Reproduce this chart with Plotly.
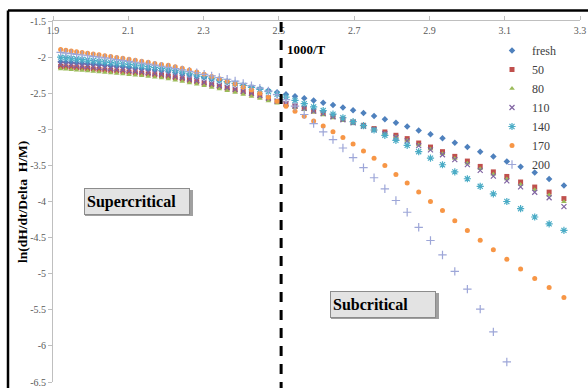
import plotly.graph_objects as go

# 1000/T values (x) shared by all series
x_vals = [1.9203, 1.9342, 1.9484, 1.9627, 1.9773, 1.9920, 2.0070, 2.0222, 2.0377, 2.0534,
          2.0693, 2.0855, 2.1019, 2.1186, 2.1356, 2.1529, 2.1704, 2.1882, 2.2063, 2.2247,
          2.2434, 2.2624, 2.2818, 2.3015, 2.3215, 2.3419, 2.3627, 2.3838, 2.4053, 2.4272,
          2.4495, 2.4722, 2.4953, 2.5189, 2.5429, 2.5674, 2.5924, 2.6178, 2.6438, 2.6702,
          2.6972, 2.7248, 2.7529, 2.7816, 2.8110, 2.8409, 2.8715, 2.9028, 2.9347, 2.9674,
          3.0008, 3.0349, 3.0698, 3.1056, 3.1422, 3.1797, 3.2180, 3.2573]

y_fresh = [-2.065, -2.070, -2.076, -2.082, -2.088, -2.094, -2.100, -2.107, -2.113, -2.120,
           -2.127, -2.134, -2.142, -2.150, -2.158, -2.166, -2.175, -2.184, -2.194, -2.210,
           -2.227, -2.245, -2.264, -2.284, -2.304, -2.325, -2.346, -2.368, -2.390, -2.413,
           -2.437, -2.462, -2.488, -2.515, -2.542, -2.570, -2.600, -2.632, -2.665, -2.699,
           -2.735, -2.773, -2.815, -2.860, -2.910, -2.960, -3.015, -3.070, -3.125, -3.185,
           -3.245, -3.310, -3.375, -3.445, -3.520, -3.600, -3.690, -3.780]

y_50 = [-2.130, -2.135, -2.140, -2.146, -2.152, -2.158, -2.164, -2.171, -2.178, -2.185,
        -2.192, -2.200, -2.208, -2.216, -2.225, -2.234, -2.244, -2.254, -2.268, -2.285,
        -2.303, -2.322, -2.342, -2.363, -2.385, -2.408, -2.432, -2.457, -2.483, -2.510,
        -2.540, -2.575, -2.615, -2.650, -2.680, -2.710, -2.745, -2.780, -2.820, -2.860,
        -2.900, -2.945, -2.990, -3.037, -3.083, -3.129, -3.190, -3.246, -3.310, -3.375,
        -3.440, -3.514, -3.590, -3.653, -3.730, -3.800, -3.870, -3.960]

y_80 = [-2.165, -2.170, -2.175, -2.181, -2.187, -2.193, -2.199, -2.206, -2.213, -2.220,
        -2.227, -2.235, -2.243, -2.251, -2.260, -2.269, -2.279, -2.289, -2.303, -2.320,
        -2.338, -2.357, -2.377, -2.398, -2.420, -2.443, -2.467, -2.492, -2.518, -2.545,
        -2.575, -2.608, -2.640, -2.668, -2.698, -2.730, -2.765, -2.802, -2.842, -2.882,
        -2.924, -2.968, -3.014, -3.062, -3.108, -3.156, -3.216, -3.274, -3.338, -3.404,
        -3.470, -3.546, -3.622, -3.688, -3.766, -3.838, -3.910, -4.005]

y_110 = [-2.100, -2.105, -2.111, -2.117, -2.123, -2.129, -2.136, -2.143, -2.150, -2.158,
         -2.166, -2.174, -2.183, -2.192, -2.201, -2.211, -2.221, -2.232, -2.247, -2.264,
         -2.283, -2.303, -2.324, -2.346, -2.369, -2.393, -2.418, -2.444, -2.472, -2.500,
         -2.531, -2.567, -2.608, -2.645, -2.677, -2.710, -2.746, -2.784, -2.826, -2.868,
         -2.911, -2.958, -3.006, -3.060, -3.110, -3.160, -3.225, -3.285, -3.352, -3.420,
         -3.490, -3.568, -3.648, -3.715, -3.797, -3.872, -3.948, -4.070]

y_140 = [-2.000, -2.008, -2.016, -2.024, -2.032, -2.040, -2.048, -2.056, -2.065, -2.074,
         -2.083, -2.092, -2.102, -2.112, -2.122, -2.133, -2.144, -2.155, -2.167, -2.185,
         -2.204, -2.224, -2.245, -2.267, -2.290, -2.314, -2.339, -2.365, -2.392, -2.420,
         -2.449, -2.479, -2.515, -2.555, -2.600, -2.645, -2.690, -2.740, -2.790, -2.840,
         -2.895, -2.950, -3.010, -3.083, -3.153, -3.222, -3.310, -3.399, -3.491, -3.590,
         -3.685, -3.790, -3.894, -4.000, -4.100, -4.215, -4.310, -4.400]

y_170 = [-1.895, -1.905, -1.915, -1.925, -1.935, -1.946, -1.957, -1.968, -1.980, -1.992,
         -2.004, -2.017, -2.030, -2.044, -2.058, -2.073, -2.088, -2.104, -2.113, -2.133,
         -2.155, -2.180, -2.207, -2.236, -2.267, -2.300, -2.335, -2.373, -2.413, -2.455,
         -2.500, -2.555, -2.610, -2.680, -2.750, -2.820, -2.885, -2.955, -3.035, -3.115,
         -3.205, -3.300, -3.400, -3.500, -3.625, -3.745, -3.870, -4.000, -4.125, -4.265,
         -4.400, -4.535, -4.670, -4.800, -4.935, -5.065, -5.190, -5.330]

# series 200 leaves the axis range after 1000/T = 3.106
y_200 = [-1.935, -1.944, -1.953, -1.962, -1.971, -1.981, -1.991, -2.001, -2.012, -2.023,
         -2.034, -2.046, -2.058, -2.071, -2.084, -2.098, -2.112, -2.127, -2.143, -2.160,
         -2.178, -2.197, -2.217, -2.238, -2.260, -2.283, -2.307, -2.332, -2.365, -2.395,
         -2.430, -2.470, -2.520, -2.590, -2.680, -2.795, -2.921, -3.037, -3.143, -3.259,
         -3.393, -3.532, -3.671, -3.824, -3.986, -4.149, -4.357, -4.540, -4.740, -4.968,
         -5.213, -5.490, -5.806, -6.222]

series_names = ["fresh", "50", "80", "110", "140", "170", "200"]
series_values = [y_fresh, y_50, y_80, y_110, y_140, y_170, y_200]

x_tick_vals = [1.9, 2.1, 2.3, 2.5, 2.7, 2.9, 3.1, 3.3]
x_tick_text = ["1.9", "2.1", "2.3", "2.5", "2.7", "2.9", "3.1", "3.3"]
y_tick_vals = [-1.5, -2, -2.5, -3, -3.5, -4, -4.5, -5, -5.5, -6, -6.5]
y_tick_text = ["-1.5", "-2", "-2.5", "-3", "-3.5", "-4", "-4.5", "-5", "-5.5", "-6", "-6.5"]

styles = [
    dict(symbol="diamond", color="#4F81BD", size=5, line=dict(width=0)),
    dict(symbol="square", color="#C0504D", size=5, line=dict(width=0)),
    dict(symbol="triangle-up", color="#9BBB59", size=5, line=dict(width=0)),
    dict(symbol="x-thin", color="#8064A2", size=5, line=dict(width=1.2, color="#8064A2")),
    dict(symbol="asterisk", color="#4BACC6", size=6, line=dict(width=1.2, color="#4BACC6")),
    dict(symbol="circle", color="#F79646", size=5, line=dict(width=0)),
    dict(symbol="cross-thin", color="#9DA6D8", size=6, line=dict(width=1.2, color="#9DA6D8")),
]

FONT = "Liberation Serif, Times New Roman, serif"

fig = go.Figure()
for name, vals, st in zip(series_names, series_values, styles):
    fig.add_trace(go.Scatter(
        x=x_vals[:len(vals)], y=vals, mode="markers", name=name,
        marker=st,
    ))

L, R, T, B = 53, 8, 21, 6
W, H = 588, 388
pw, ph = W - L - R, H - T - B

def px(xp):
    return (xp - L) / pw

def py(yp):
    return (H - B - yp) / ph

fig.update_layout(
    width=W, height=H,
    margin=dict(l=L, r=R, t=T, b=B, autoexpand=False),
    paper_bgcolor="white", plot_bgcolor="white",
    font=dict(family=FONT, color="#595959", size=10),
    showlegend=True,
    legend=dict(
        x=px(492), y=py(36), xanchor="left", yanchor="top",
        bgcolor="rgba(0,0,0,0)", font=dict(family=FONT, size=12, color="#404040"),
        itemwidth=30, tracegroupgap=0,
    ),
    xaxis=dict(
        range=[1.9, 3.3], side="top", showgrid=False, zeroline=False,
        showline=True, linecolor="#BFBFBF", linewidth=1, automargin=False,
        ticks="outside", ticklen=4, tickcolor="#BFBFBF",
        tickvals=x_tick_vals, ticktext=x_tick_text,
        ticklabelposition="inside", ticklabeloverflow="allow", ticklabelstandoff=5,
        tickfont=dict(family=FONT, size=10, color="#595959"),
    ),
    yaxis=dict(
        range=[-6.5, -1.5], showgrid=False, zeroline=False,
        showline=True, linecolor="#BFBFBF", linewidth=1, automargin=False,
        ticks="outside", ticklen=4, tickcolor="#BFBFBF",
        tickvals=y_tick_vals, ticktext=y_tick_text,
        tickfont=dict(family=FONT, size=10, color="#595959"),
    ),
)

# outer frame of the picture
fig.add_shape(type="line", xref="paper", yref="paper", x0=px(8), x1=px(590), y0=py(10.5), y1=py(10.5),
              line=dict(color="black", width=2.5))
fig.add_shape(type="line", xref="paper", yref="paper", x0=px(8), x1=px(8), y0=py(10.5), y1=py(392),
              line=dict(color="black", width=2.5))

# dashed boundary
fig.add_shape(type="line", xref="x", yref="paper", x0=2.506, x1=2.506, y0=py(392), y1=1.0,
              line=dict(color="black", width=3, dash="10px,8px"), layer="above")

# box shadows
fig.add_shape(type="rect", xref="paper", yref="paper", x0=px(85), x1=px(193), y0=py(216), y1=py(190),
              line=dict(width=0), fillcolor="#a0a0a0", layer="above")
fig.add_shape(type="rect", xref="paper", yref="paper", x0=px(331), x1=px(439), y0=py(319), y1=py(293),
              line=dict(width=0), fillcolor="#a0a0a0", layer="above")

fig.add_annotation(x=px(137), y=py(201), xref="paper", yref="paper", showarrow=False,
                   xanchor="center", yanchor="middle",
                   text="<b>Supercritical</b>", width=100, height=21, align="left",
                   font=dict(family=FONT, size=16, color="black"),
                   bgcolor="#e3e3e3", bordercolor="#8c8c8c", borderwidth=1, borderpad=2)
fig.add_annotation(x=px(383), y=py(304), xref="paper", yref="paper", showarrow=False,
                   xanchor="center", yanchor="middle",
                   text="<b>Subcritical</b>", width=100, height=21, align="left",
                   font=dict(family=FONT, size=16, color="black"),
                   bgcolor="#e3e3e3", bordercolor="#8c8c8c", borderwidth=1, borderpad=2)

fig.add_annotation(x=px(285), y=py(49), xref="paper", yref="paper", showarrow=False,
                   xanchor="left", yanchor="middle", text="<b>1000/T</b>",
                   font=dict(family=FONT, size=13, color="black"))

fig.add_annotation(x=px(22), y=py(202), xref="paper", yref="paper", showarrow=False,
                   xanchor="center", yanchor="middle",
                   textangle=-90, text="<b>ln(dH/dt/Delta\u00a0 H/M)</b>",
                   font=dict(family=FONT, size=13.5, color="black"))

fig.write_html(
    "out.html",
    config={"displayModeBar": False},
    post_script="document.body.style.margin='0';document.body.style.padding='0';"
                "document.body.style.overflow='hidden';",
)
